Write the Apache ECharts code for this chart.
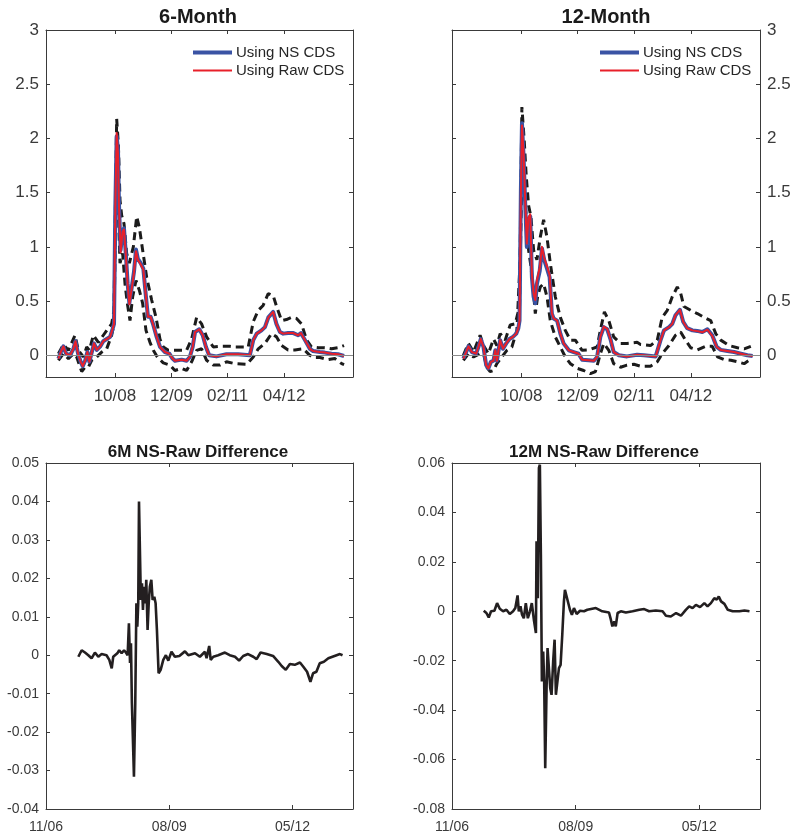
<!DOCTYPE html>
<html><head><meta charset="utf-8">
<script src="https://cdn.jsdelivr.net/npm/echarts@6/dist/echarts.min.js"></script>
<style>html,body{margin:0;padding:0;background:#fff}#c{width:795px;height:835px}</style>
</head><body><div id="c"></div>
<script>
// x values are months since Jan 2000 (0 = 01/00)
const ns6 = [[90.96,-0.03],[91.54,0.03],[92.2,0.083],[92.86,0.015],[93.85,0.0],[94.68,0.06],[95.2,0.13],[95.84,0.015],[96.5,-0.06],[97.0,-0.1],[97.6,-0.05],[98.15,0.03],[98.65,-0.06],[99.15,0.015],[99.8,0.11],[100.5,0.05],[101.3,0.08],[102.1,0.13],[102.95,0.15],[103.8,0.17],[104.4,0.24],[104.77,0.29],[105.1,1.37],[105.43,2.02],[105.76,1.89],[106.0,1.4],[106.4,0.97],[106.9,1.15],[107.25,1.17],[107.75,0.91],[108.16,0.66],[108.58,0.48],[109.07,0.6],[109.73,0.77],[110.23,0.975],[110.7,0.89],[111.4,0.85],[112.05,0.8],[112.7,0.54],[113.2,0.355],[113.87,0.355],[114.53,0.28],[115.36,0.17],[116.2,0.077],[117.4,0.03],[118.5,0.015],[119.3,-0.03],[119.9,-0.05],[121.56,-0.04],[122.8,-0.05],[123.6,-0.015],[124.3,0.077],[124.9,0.215],[125.95,0.24],[126.8,0.185],[127.6,0.077],[128.4,0.0],[130.2,-0.01],[132.7,0.01],[135.6,0.01],[138.5,0.0],[139.35,0.14],[140.2,0.2],[141.4,0.23],[142.25,0.26],[143.1,0.35],[144.3,0.4],[145.1,0.29],[145.97,0.215],[146.8,0.2],[148.0,0.205],[149.3,0.205],[150.5,0.185],[151.2,0.205],[152.2,0.14],[153.4,0.06],[154.2,0.04],[155.9,0.03],[157.1,0.025],[158.8,0.015],[160.4,0.01],[161.9,-0.006]];
const raw6 = [[90.96,-0.03],[91.54,0.03],[92.2,0.083],[92.86,0.015],[93.85,0.0],[94.68,0.06],[95.2,0.13],[95.84,0.015],[96.5,-0.06],[97.0,-0.1],[97.6,-0.05],[98.15,0.03],[98.65,-0.06],[99.15,0.015],[99.8,0.11],[100.5,0.05],[101.3,0.08],[102.1,0.13],[102.95,0.15],[103.8,0.17],[104.4,0.24],[104.77,0.29],[105.1,1.38],[105.43,2.05],[105.76,1.86],[106.0,1.38],[106.4,0.95],[106.9,1.14],[107.25,1.16],[107.75,0.9],[108.16,0.65],[108.58,0.47],[109.07,0.59],[109.73,0.76],[110.23,0.96],[110.7,0.88],[111.4,0.84],[112.05,0.79],[112.7,0.54],[113.2,0.355],[113.87,0.355],[114.53,0.28],[115.36,0.17],[116.2,0.077],[117.4,0.03],[118.5,0.015],[119.3,-0.03],[119.9,-0.05],[121.56,-0.04],[122.8,-0.05],[123.6,-0.015],[124.3,0.077],[124.9,0.215],[125.95,0.24],[126.8,0.185],[127.6,0.077],[128.4,0.0],[130.2,-0.01],[132.7,0.01],[135.6,0.01],[138.5,0.0],[139.35,0.14],[140.2,0.2],[141.4,0.23],[142.25,0.26],[143.1,0.35],[144.3,0.4],[145.1,0.29],[145.97,0.215],[146.8,0.2],[148.0,0.205],[149.3,0.205],[150.5,0.185],[151.2,0.205],[152.2,0.14],[153.4,0.06],[154.2,0.04],[155.9,0.03],[157.1,0.025],[158.8,0.015],[160.4,0.01],[161.9,-0.006]];
const up6 = [[90.96,0.015],[92.2,0.1],[93.44,0.046],[95.09,0.185],[95.92,0.046],[97.16,-0.015],[97.99,0.077],[98.65,0.046],[99.64,0.185],[100.88,0.12],[102.12,0.185],[103.36,0.25],[104.19,0.29],[104.77,0.415],[105.43,2.18],[105.85,1.95],[106.26,1.43],[106.67,1.29],[107.25,1.215],[107.91,0.94],[108.58,0.85],[109.57,1.0],[110.4,1.28],[111.06,1.18],[111.88,0.97],[112.88,0.72],[114.12,0.51],[115.2,0.35],[116.18,0.15],[117.0,0.077],[118.25,0.046],[120.32,0.046],[122.8,0.046],[124.04,0.15],[125.28,0.35],[126.52,0.29],[127.76,0.17],[129.42,0.077],[131.07,0.083],[133.55,0.083],[134.8,0.077],[138.1,0.077],[139.35,0.31],[140.6,0.415],[141.8,0.46],[143.07,0.57],[144.3,0.55],[145.14,0.45],[146.38,0.32],[147.6,0.33],[148.86,0.35],[150.1,0.34],[151.34,0.29],[152.6,0.14],[153.8,0.077],[155.5,0.07],[157.1,0.07],[158.8,0.06],[160.4,0.07],[161.9,0.09]];
const lo6 = [[90.96,-0.046],[92.2,0.015],[93.44,-0.03],[94.68,0.015],[95.5,-0.015],[96.75,-0.15],[97.58,-0.11],[98.4,-0.11],[99.23,-0.046],[100.47,-0.015],[101.71,0.03],[102.95,0.06],[104.19,0.185],[104.77,0.29],[105.18,1.37],[105.6,1.55],[105.93,1.215],[106.26,0.85],[106.92,0.94],[107.5,0.66],[108.08,0.48],[108.74,0.32],[109.4,0.54],[110.23,0.69],[111.06,0.6],[111.88,0.48],[112.71,0.23],[113.7,0.12],[114.53,0.046],[115.52,-0.015],[117.0,-0.07],[118.67,-0.09],[119.9,-0.14],[121.56,-0.12],[122.8,-0.14],[124.04,-0.06],[125.28,0.046],[126.52,0.06],[127.76,-0.046],[129.42,-0.09],[131.07,-0.09],[132.73,-0.06],[134.8,-0.077],[137.7,-0.083],[139.35,-0.015],[140.6,0.06],[142.25,0.11],[143.9,0.2],[145.14,0.17],[146.38,0.09],[148.0,0.05],[149.7,0.05],[151.76,0.06],[153.4,0],[154.2,-0.02],[155.9,-0.02],[157.96,-0.04],[159.6,-0.03],[161.3,-0.077],[161.9,-0.086]];

const ns12 = [[90.7,-0.03],[91.4,0.03],[91.95,0.083],[92.77,0.03],[93.85,0.015],[94.43,0.077],[95.0,0.15],[95.67,0.077],[96.33,-0.09],[96.9,-0.12],[97.5,-0.06],[98.15,-0.05],[98.6,0.046],[99.0,-0.05],[99.8,0.14],[100.5,0.06],[101.3,0.11],[102.1,0.15],[102.95,0.17],[103.8,0.2],[104.3,0.25],[104.6,0.32],[104.93,1.52],[105.2,2.14],[105.6,1.83],[106.0,1.4],[106.4,1.0],[106.8,1.25],[107.25,1.28],[107.66,0.72],[108.08,0.54],[108.5,0.48],[108.9,0.66],[109.6,0.78],[110.15,0.985],[110.7,0.88],[111.4,0.8],[112.05,0.72],[112.6,0.385],[113.04,0.34],[113.9,0.32],[114.7,0.2],[115.5,0.11],[116.8,0.046],[118.0,0.03],[119.2,0.015],[120.1,-0.04],[121.7,-0.046],[123.0,-0.05],[123.8,-0.015],[124.6,0.17],[125.45,0.26],[126.3,0.24],[127.1,0.15],[127.9,0.03],[129.2,0],[131.2,-0.01],[133.7,0.006],[135.4,0],[138.3,-0.01],[139.5,0.14],[140.35,0.23],[141.6,0.26],[142.4,0.29],[143.2,0.37],[144.3,0.42],[145.1,0.31],[146.1,0.25],[147.4,0.23],[148.6,0.225],[149.85,0.215],[151.1,0.24],[152.3,0.185],[153.4,0.077],[154.4,0.05],[156.05,0.04],[157.7,0.03],[159.4,0.015],[161.0,0],[162.3,-0.006]];
const raw12 = [[90.7,-0.03],[91.4,0.03],[91.95,0.083],[92.77,0.03],[93.85,0.015],[94.43,0.077],[95.0,0.15],[95.67,0.077],[96.33,-0.09],[96.9,-0.12],[97.5,-0.06],[98.15,-0.05],[98.6,0.046],[99.0,-0.05],[99.8,0.14],[100.5,0.06],[101.3,0.11],[102.1,0.15],[102.95,0.17],[103.8,0.2],[104.3,0.25],[104.6,0.32],[104.93,1.5],[105.2,2.12],[105.6,1.86],[106.0,1.43],[106.4,1.03],[106.8,1.27],[107.25,1.3],[107.66,0.75],[108.08,0.57],[108.5,0.51],[108.9,0.69],[109.6,0.81],[110.15,1.0],[110.7,0.9],[111.4,0.82],[112.05,0.74],[112.6,0.39],[113.04,0.34],[113.9,0.32],[114.7,0.2],[115.5,0.11],[116.8,0.046],[118.0,0.03],[119.2,0.015],[120.1,-0.04],[121.7,-0.046],[123.0,-0.05],[123.8,-0.015],[124.6,0.17],[125.45,0.265],[126.3,0.245],[127.1,0.15],[127.9,0.03],[129.2,0],[131.2,-0.01],[133.7,0.006],[135.4,0],[138.3,-0.01],[139.5,0.14],[140.35,0.23],[141.6,0.26],[142.4,0.29],[143.2,0.37],[144.3,0.42],[145.1,0.31],[146.1,0.25],[147.4,0.23],[148.6,0.223],[149.85,0.212],[151.1,0.236],[152.3,0.18],[153.4,0.077],[154.4,0.05],[156.05,0.04],[157.7,0.03],[159.4,0.015],[161.0,0],[162.3,-0.006]];
const up12 = [[90.7,0],[91.95,0.11],[93.2,0.03],[94.84,0.185],[95.67,0.09],[96.9,0.015],[98.15,0.15],[98.98,0.09],[99.8,0.2],[101.05,0.14],[102.29,0.28],[103.53,0.29],[104.6,0.45],[105.18,2.29],[105.76,1.98],[106.26,1.65],[106.84,1.38],[107.42,1.28],[108.08,0.97],[108.9,0.88],[109.73,1.09],[110.56,1.25],[111.39,1.09],[112.21,0.85],[113.45,0.54],[114.7,0.35],[115.93,0.23],[117.18,0.14],[118.4,0.14],[120.07,0.046],[121.7,0.05],[123.8,0.077],[124.6,0.23],[125.6,0.4],[126.7,0.32],[127.9,0.17],[129.6,0.11],[131.2,0.11],[133.7,0.12],[134.55,0.1],[137.0,0.09],[138.7,0.14],[139.9,0.35],[141.17,0.415],[142.4,0.54],[143.65,0.63],[144.5,0.57],[145.3,0.45],[146.96,0.415],[148.6,0.385],[150.27,0.35],[151.92,0.32],[153.16,0.2],[154.4,0.14],[156.47,0.09],[158.54,0.07],[160.2,0.06],[161.85,0.083]];
const lo12 = [[90.7,-0.046],[91.95,0.015],[93.2,-0.015],[94.84,0.015],[95.67,0.015],[96.5,-0.11],[97.32,-0.15],[98.15,-0.14],[98.98,-0.077],[100.22,-0.015],[101.46,0.046],[102.7,0.077],[103.94,0.23],[104.77,0.9],[105.26,1.74],[105.76,1.52],[106.26,1.28],[106.84,0.97],[107.42,0.82],[108.08,0.57],[108.5,0.385],[109.07,0.54],[109.73,0.63],[110.56,0.66],[111.39,0.54],[112.21,0.32],[113.45,0.17],[114.7,0.077],[115.93,-0.015],[117.18,-0.077],[118.83,-0.12],[120.48,-0.14],[122.14,-0.17],[123.38,-0.15],[124.62,0.015],[125.45,0.11],[126.7,0.046],[127.9,-0.077],[129.6,-0.11],[131.2,-0.09],[132.9,-0.083],[134.55,-0.1],[137.0,-0.1],[138.7,-0.06],[139.9,0.015],[141.58,0.09],[143.2,0.185],[144.48,0.215],[145.7,0.14],[146.96,0.07],[148.6,0.05],[150.68,0.083],[152.3,0.083],[153.6,-0.015],[155.23,-0.04],[156.9,-0.046],[158.54,-0.06],[160.2,-0.077],[161.4,-0.046]];

const diff6 = [[90.66,-0.0004],[91.55,0.0013],[92.44,0.0007],[93.33,0],[94.2,-0.0008],[95.1,0.0007],[96.0,-0.0004],[96.9,0.0003],[98.2,0],[98.95,-0.0012],[99.6,-0.0034],[100.0,-0.0004],[101.1,0.0005],[101.6,0.0013],[102.25,0.0005],[102.9,0.0013],[103.4,0.0007],[103.86,0],[104.2,0.0083],[104.5,-0.002],[104.75,0.0031],[105.0,-0.0125],[105.55,-0.0316],[105.9,-0.0125],[106.2,0.0135],[106.45,0.0074],[106.7,0.0135],[106.9,0.04],[107.16,0.04],[107.4,0.0144],[107.7,0.0187],[107.96,0.0118],[108.23,0.0178],[108.6,0.0135],[108.85,0.0196],[109.2,0.0066],[109.5,0.0135],[109.8,0.0178],[110.2,0.0196],[110.55,0.0144],[111.0,0.0152],[111.35,0.0135],[111.7,0.0066],[112.15,-0.0047],[112.7,-0.0038],[113.4,-0.0012],[114.1,0],[114.75,-0.0014],[115.6,0.0009],[116.5,-0.0004],[117.7,-0.0002],[119.2,0.001],[120.1,0],[121.9,0.0005],[123.2,-0.0004],[124.55,0.0009],[125.0,-0.0008],[125.7,0.0024],[126.1,-0.0012],[126.8,-0.0004],[128.1,0],[129.9,0.0007],[131.2,0],[132.6,-0.0004],[133.7,-0.0014],[134.8,-0.0002],[136.1,0.0003],[137.5,-0.0004],[138.4,-0.001],[139.45,0.0007],[141.1,0.0003],[142.8,-0.0002],[144.2,-0.0017],[145.1,-0.0028],[146.2,-0.0038],[147.3,-0.0023],[148.6,-0.0025],[150.0,-0.0019],[150.9,-0.003],[151.9,-0.0043],[152.8,-0.0069],[153.5,-0.0047],[154.4,-0.0043],[155.3,-0.0021],[156.4,-0.0017],[157.6,-0.0008],[158.7,-0.0004],[159.8,0],[160.7,0.0003],[161.4,0]];
const diff12 = [[90.47,0.0002],[91.18,-0.0007],[91.8,-0.0025],[92.43,0],[93.32,0.0002],[94.03,0.0033],[94.75,0.001],[95.64,0],[96.53,0.0006],[97.42,-0.0011],[98.3,0],[98.9,0.0013],[99.5,0.0064],[99.83,0],[100.28,0.002],[100.7,-0.0014],[101.17,-0.0028],[101.7,0.0033],[102.24,-0.0028],[102.8,0],[103.3,0.0033],[103.85,-0.0034],[104.4,-0.0088],[104.56,0.0283],[104.9,0.0053],[105.2,0.058],[105.45,0.0593],[105.72,0.0229],[105.99,-0.0284],[106.34,-0.0163],[106.6,-0.0284],[106.88,-0.0635],[107.24,-0.0311],[107.5,-0.0149],[107.86,-0.0142],[108.22,-0.0311],[108.57,-0.0338],[109.0,-0.0203],[109.38,-0.0115],[109.73,-0.0338],[110.1,-0.0345],[110.54,-0.023],[110.98,-0.0217],[111.43,-0.0095],[111.87,0.004],[112.14,0.0087],[112.59,0.006],[113.03,0.0067],[113.48,0.0006],[114.0,-0.0014],[114.55,0.0013],[115.27,-0.0011],[116.16,0.0002],[117.23,0],[118.12,0.0006],[118.6,0.0006],[120.4,0.0013],[122.1,0],[123.9,-0.0005],[124.4,-0.0034],[124.8,-0.0061],[125.3,-0.0041],[125.7,-0.0061],[126.2,-0.0007],[127.05,0],[128.4,-0.0005],[130.2,0],[132.0,0.0006],[133.3,0.0009],[134.6,0],[136.4,0.0003],[138.2,0],[139.1,-0.0018],[140.4,-0.0021],[141.8,-0.0007],[143.1,-0.0018],[144.4,0.0006],[145.3,0.002],[146.2,0.0013],[147.1,0.0026],[148.2,0.0017],[149.35,0.0033],[150.2,0.002],[151.1,0.0033],[152.0,0.0053],[152.65,0.0047],[153.2,0.006],[153.8,0.004],[154.7,0.003],[155.6,0.0006],[156.9,0],[158.7,0],[160.05,0.0003],[161.4,0]];

const topXTicks = [105, 119, 133, 147];
const topXLabels = ['10/08', '12/09', '02/11', '04/12'];
const botXTicks = [82, 115, 148];
const botXLabels = ['11/06', '08/09', '05/12'];
const topYTicks = [0, 0.5, 1, 1.5, 2, 2.5, 3];
const titles = ['6-Month', '12-Month', '6M NS-Raw Difference', '12M NS-Raw Difference'];
const legendNames = ['Using NS CDS', 'Using Raw CDS'];

const AX = '#3a3a3a';
const FONT = '"Liberation Sans", Arial, Helvetica, sans-serif';
const NS_COLOR = '#3a53a4';
const RAW_COLOR = '#e8202a';
const chart = echarts.init(document.getElementById('c'), null, {renderer: 'canvas'});

function lookup(ticks, labels) {
  return function (v) {
    for (let i = 0; i < ticks.length; i++) if (Math.abs(ticks[i] - v) < 1e-6) return labels[i];
    return '';
  };
}

const grids = [
  {left: 46, top: 30, width: 307, height: 347},
  {left: 452, top: 30, width: 308, height: 347},
  {left: 46, top: 463, width: 307, height: 346},
  {left: 452, top: 463, width: 308, height: 346}
];

const xAxes = [], yAxes = [];
function addX(gi, min, max, ticks, labels, fs) {
  ['bottom', 'top'].forEach(function (pos, k) {
    xAxes.push({
      type: 'value', gridIndex: gi, position: pos, min: min, max: max,
      axisLine: {show: true, onZero: false, lineStyle: {color: AX, width: 1}},
      axisTick: {show: true, inside: true, length: 4, customValues: ticks, lineStyle: {color: AX, width: 1}},
      axisLabel: {show: k === 0, customValues: ticks, formatter: lookup(ticks, labels), color: AX, fontSize: fs, fontFamily: FONT, margin: 11},
      splitLine: {show: false}
    });
  });
}
function addY(gi, cfg, labelPos, fs) {
  ['left', 'right'].forEach(function (pos) {
    const a = {
      type: 'value', gridIndex: gi, position: pos, min: cfg.min, max: cfg.max,
      axisLine: {show: true, onZero: false, lineStyle: {color: AX, width: 1}},
      axisTick: {show: true, inside: true, length: 4, lineStyle: {color: AX, width: 1}},
      axisLabel: {show: pos === labelPos, color: AX, fontSize: fs, fontFamily: FONT, margin: 7},
      splitLine: {show: false}
    };
    if (cfg.ticks) { a.axisTick.customValues = cfg.ticks; a.axisLabel.customValues = cfg.ticks; }
    else { a.interval = cfg.interval; }
    yAxes.push(a);
  });
}
addX(0, 87.88, 164.12, topXTicks, topXLabels, 17);
addX(1, 87.88, 164.12, topXTicks, topXLabels, 17);
addX(2, 82, 164.2, botXTicks, botXLabels, 14);
addX(3, 82, 164.2, botXTicks, botXLabels, 14);
addY(0, {min: -0.2, max: 3, ticks: topYTicks}, 'left', 17);
addY(1, {min: -0.2, max: 3, ticks: topYTicks}, 'right', 17);
addY(2, {min: -0.04, max: 0.05, interval: 0.01}, 'left', 14);
addY(3, {min: -0.08, max: 0.06, interval: 0.02}, 'left', 14);

const series = [];
function band(gi, data, withZero) {
  const s = {
    type: 'line', xAxisIndex: gi * 2, yAxisIndex: gi * 2, data: data, symbol: 'none', silent: true,
    lineStyle: {color: '#1b1b1b', width: 3, type: [8, 5]}, z: 2
  };
  if (withZero) s.markLine = {silent: true, symbol: ['none', 'none'], label: {show: false}, animation: false,
    lineStyle: {color: '#8a8a8a', width: 1, type: 'solid'}, data: [{yAxis: 0}]};
  series.push(s);
}
[[0, ns6, raw6, up6, lo6], [1, ns12, raw12, up12, lo12]].forEach(function (p) {
  const gi = p[0];
  band(gi, p[3], true);
  band(gi, p[4], false);
  series.push({name: legendNames[0], type: 'line', xAxisIndex: gi * 2, yAxisIndex: gi * 2, data: p[1], symbol: 'none',
    lineStyle: {color: NS_COLOR, width: 4, join: 'round'}, itemStyle: {color: NS_COLOR}, z: 3});
  series.push({name: legendNames[1], type: 'line', xAxisIndex: gi * 2, yAxisIndex: gi * 2, data: p[2], symbol: 'none',
    lineStyle: {color: RAW_COLOR, width: 2, join: 'round'}, itemStyle: {color: RAW_COLOR}, z: 4});
});
[[2, diff6], [3, diff12]].forEach(function (p) {
  series.push({type: 'line', xAxisIndex: p[0] * 2, yAxisIndex: p[0] * 2, data: p[1], symbol: 'none', silent: true,
    lineStyle: {color: '#231f20', width: 2.6}});
});

const titleCfg = [[198, 7, 20], [606, 7, 20], [198, 444, 17], [604, 444, 17]];
const option = {
  animation: false,
  backgroundColor: '#fff',
  title: titles.map(function (t, i) {
    return {text: t, left: titleCfg[i][0], top: titleCfg[i][1], textAlign: 'center', padding: 0,
      textStyle: {fontSize: titleCfg[i][2], fontWeight: 'bold', color: '#1a1a1a', fontFamily: FONT}};
  }),
  legend: [193, 600].map(function (l) {
    return {
      data: [
        {name: legendNames[0], icon: 'path://M0,0H39V4H0Z', itemStyle: {color: NS_COLOR}},
        {name: legendNames[1], icon: 'path://M0,0H39V2H0Z', itemStyle: {color: RAW_COLOR}}
      ],
      orient: 'vertical', left: l, top: 45, itemWidth: 39, itemHeight: 12, itemGap: 3,
      padding: 0, selectedMode: false, symbolKeepAspect: true,
      textStyle: {fontSize: 15, color: '#262626', fontFamily: FONT, padding: [0, 0, 0, -1]}
    };
  }),
  grid: grids,
  xAxis: xAxes,
  yAxis: yAxes,
  series: series
};
chart.setOption(option);
</script></body></html>
